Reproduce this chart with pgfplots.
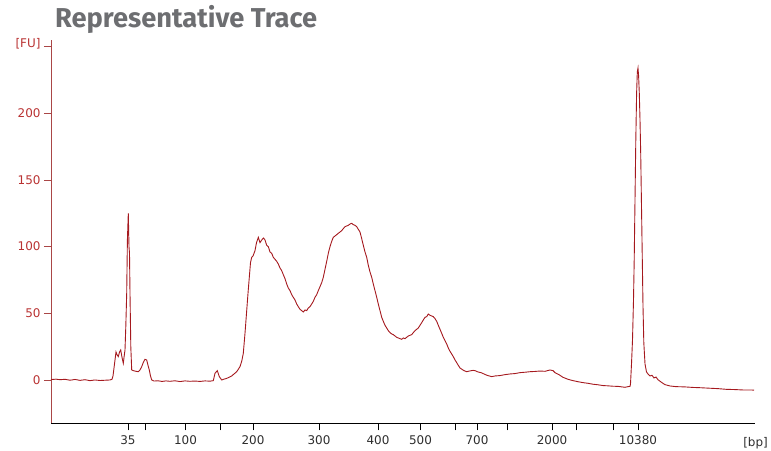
\documentclass[border=0pt]{standalone}
\usepackage{pgfplots}
\pgfplotsset{compat=1.18}
\usepackage{fontspec}
\setmainfont{DejaVu Sans}
\newfontfamily\titlefont{Fira Sans}

\definecolor{trace}{RGB}{165,25,30}
\definecolor{yaxiscol}{RGB}{170,70,70}
\definecolor{ylabcol}{RGB}{185,50,50}
\definecolor{xlabcol}{RGB}{45,45,45}
\definecolor{titlegray}{RGB}{109,110,113}

\begin{document}
\begin{tikzpicture}
\useasboundingbox (-51bp,-27.7bp) rectangle (720bp,423.3bp);
\begin{axis}[
    at={(0,0)}, anchor=south west,
    scale only axis,
    width=704bp, height=383.3bp,
    xmin=51, xmax=755,
    ymin=-32.5, ymax=255,
    axis x line*=bottom,
    axis y line*=left,
    x axis line style={-, black, line width=0.8bp},
    y axis line style={-, yaxiscol, line width=0.8bp},
    tick align=outside,
    major tick length=7bp,
    xtick={128,145,185.5,220,253,319,378,420.5,455,477,507,552,576,613,638},
    xticklabels={35,,100,,200,300,400,500,,700,,2000,,,10380},
    ytick={0,50,100,150,200,250},
    yticklabels={0,50,100,150,200,{\raisebox{8bp}{[FU]}}},
    x tick style={black, line width=0.8bp},
    y tick style={yaxiscol, line width=0.8bp},
    x tick label style={font=\fontsize{12}{12}\selectfont, text=xlabcol, yshift=-2bp},
    y tick label style={font=\fontsize{12}{12}\selectfont, text=ylabcol},
    clip=false,
]
% trace: x in plot units along the run, y in FU
\addplot[trace, line width=0.9bp] coordinates {
(51,0.3) (56,0.6) (60,0.2) (65,0.5) (70,-0.2) (75,0.4) (80,-0.3) (85,0.2) (90,-0.5)
(95,0) (100,-0.4) (105,-0.2) (110,0) (112,0.5) (113,3) (114.5,12) (116,21)
(117,19) (118.3,17.5) (119.5,21) (120.7,22.5) (122,17) (123.3,12.5) (124.2,18)
(125,22.5) (125.8,40) (126.7,65) (127.4,105) (128.3,125) (129,100) (129.5,95)
(130,65) (130.8,25) (131.7,7.5) (133.3,7) (136,6.5) (138.3,6.2) (140,7.5) (141.7,10)
(143.5,13.5) (145,15.5) (146.7,15) (148,11) (149.3,7.5) (150.5,3) (151.7,0)
(154,-0.8) (158,-0.6) (162,-1.1) (166,-0.7) (170,-1.0) (175,-0.6) (180,-1.2)
(185,-0.7) (190,-1.0) (195,-0.8) (200,-1.1) (205,-0.7) (210,-0.9) (213.3,-0.5)
(215,5) (217.3,7) (219.3,2.5) (221.7,0) (224,0.6) (226.7,1.2) (229,2) (231.7,3)
(234,4.5) (236.7,6.2) (240,10) (241.7,14) (243.3,20) (245,35) (246.7,52) (248,65)
(249.3,77) (250.5,88) (251.7,92) (253,93) (255,97) (256.5,103) (258.3,107)
(260,103) (261.7,105) (263.5,106.5) (265,105) (266.7,101) (268.3,100) (270,96)
(271.7,95) (273.3,92) (275,90.5) (276.7,89) (278.3,87) (280,84) (281.7,82)
(283.3,79) (285,76) (286.7,72) (288.3,69) (290,67) (291.7,64) (293.3,62) (295,60)
(296.7,57) (298.3,55) (300,53) (301.7,52) (303.3,51) (305,52.5) (306.7,52)
(308.3,54) (310,55) (311.7,57) (313.3,59) (315,62) (316.7,64) (318.3,67) (320,70)
(321.7,73) (323.3,77) (325,83) (326.7,89) (328.3,95) (330,100) (331.7,104)
(333.3,107) (335,108) (336.7,109) (338.3,110) (340,111) (341.7,112) (343.3,113.5)
(345,115) (346.7,115.5) (348.3,116) (350,117) (351.7,117.5) (353.3,116.5)
(355,116) (356.7,115) (358.3,113) (360,111) (361.7,106) (363.3,101) (365,96)
(366.7,92) (368.3,86) (370,81) (371.7,77) (373.3,72) (375,67) (376.7,62)
(378.3,57) (380,52) (381.7,47) (383.3,44) (385,41) (386.7,39) (388.3,37)
(390,35.5) (391.7,34.5) (393.3,34) (395,33) (396.7,32) (398.3,31.5) (400,31)
(401.7,30.5) (403.3,31.5) (405,31) (406.7,32) (408.3,33) (410,33.5) (411.7,34)
(413.3,35.5) (415,37) (416.7,38) (418.3,39) (420,41) (421.7,43) (423.3,45)
(425,47) (426.7,47.5) (428.3,49.5) (430,48.5) (431.7,48) (433.3,47.5) (435,46)
(436.7,44) (438.3,41) (440,38) (441.7,35) (443.3,32) (445,29.5) (446.7,27)
(448.3,24) (450,21.5) (451.7,19.5) (453.3,17.5) (455,15) (456.7,13) (458.3,11)
(460,9) (462,8) (464,7) (466.7,6.2) (470,6.8) (473,7.2) (475,7) (478,6) (481,5.5)
(484,4.5) (487,3.5) (491.7,2.5) (495,3) (500,3.3) (505,4) (510,4.5) (515,4.8)
(520,5.5) (525,5.8) (530,6.2) (535,6.4) (540,6.7) (545,6.5) (550,7.5) (553,7)
(555,5.5) (559,4) (563,2) (568,0.5) (573,-0.5) (578,-1.3) (583,-2) (588,-2.5)
(593,-3.2) (598,-3.6) (603,-4.2) (608,-4.4) (613,-4.7) (618,-4.8) (622,-5.2)
(625,-5.5) (628,-5) (630,-4.8) (630.5,-3) (631.5,12) (632.5,30) (633.5,60)
(634.2,90) (635,135) (635.8,180) (636.6,215) (637.3,231) (638,234) (638.6,228)
(639.3,215) (640,195) (640.7,170) (641.5,130) (642.3,90) (643,55) (643.8,28)
(645,12) (646.5,6) (648,4.5) (650,3) (652,3.5) (654,1.5) (656,2.2) (658,0.2)
(661,-1.5) (665,-3.5) (670,-4.5) (676,-5) (685,-5.2) (693,-5.6) (700,-5.8)
(710,-6.2) (718,-6.5) (726,-7) (735,-7.2) (743,-7.5) (750,-7.5) (754,-7.6)
};
\node[anchor=base east, inner sep=0pt, text=xlabcol, font=\fontsize{12}{12}\selectfont]
    at ([xshift=13bp, yshift=-22.7bp]rel axis cs:1,0) {[bp]};
\end{axis}
\node[anchor=base west, inner sep=0pt, text=titlegray]
    at (4bp,396bp) {\resizebox{262bp}{!}{\titlefont\bfseries Representative Trace}};
\end{tikzpicture}
\end{document}
